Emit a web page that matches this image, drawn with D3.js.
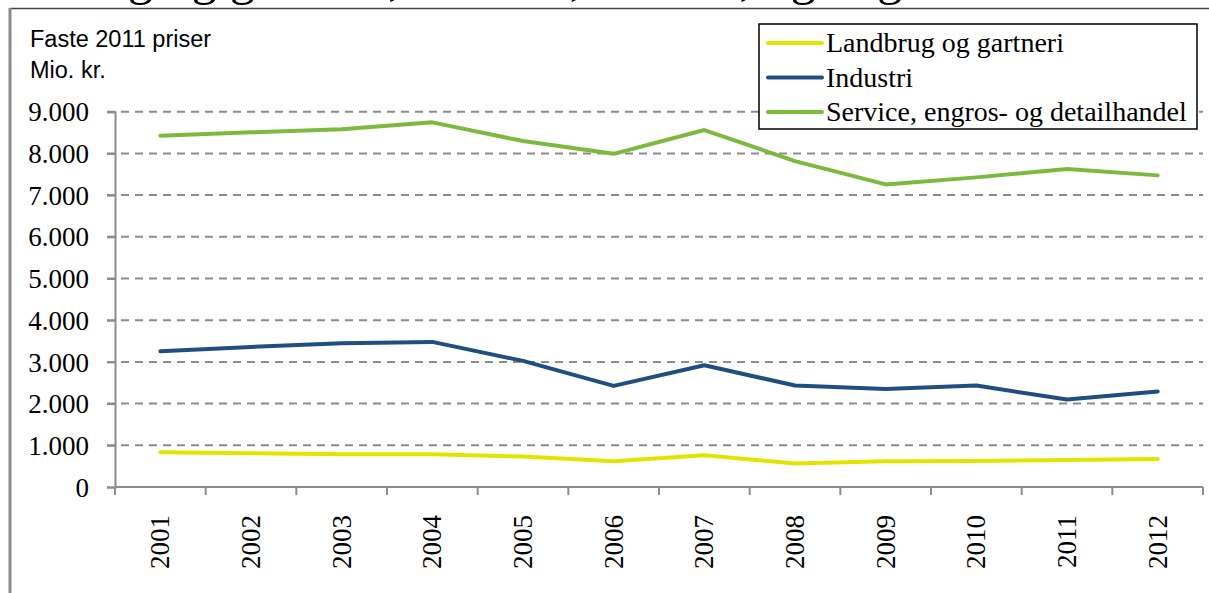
<!DOCTYPE html>
<html>
<head>
<meta charset="utf-8">
<script src="https://cdn.jsdelivr.net/npm/d3@7"></script>
<style>
  body { margin: 0; background: #fff; }
  svg { display: block; }
</style>
</head>
<body>
<div id="chart"></div>
<script>
// data
var years = ["2001", "2002", "2003", "2004", "2005", "2006", "2007", "2008", "2009", "2010", "2011", "2012"];
var landbrug = [833, 809, 785, 785, 729, 617, 761, 561, 617, 624, 648, 672];
var industri = [3256, 3360, 3449, 3480, 3024, 2424, 2920, 2433, 2352, 2433, 2097, 2289];
var service = [8424, 8505, 8577, 8745, 8296, 7990, 8560, 7816, 7257, 7425, 7624, 7473];
var yTicks = [0, 1000, 2000, 3000, 4000, 5000, 6000, 7000, 8000, 9000];
var seriesNames = ["Landbrug og gartneri", "Industri", "Service, engros- og detailhandel"];
var seriesColors = ["#e3e300", "#1f4e80", "#7db93f"];

var width = 1209, height = 593;
var margin = {top: 112, right: 6, bottom: 106, left: 115};

var svg = d3.select("#chart")
    .append("svg")
    .attr("width", width)
    .attr("height", height);

// frame bits from the cut document page (title only shows its descenders)
svg.append("text")
    .attr("x", -45)
    .attr("y", -6)
    .attr("font-family", "Liberation Serif")
    .attr("font-size", 51)
    .attr("fill", "#000")
    .text("Landbrug og gartneri, industri, service, og engroshandel");

svg.append("line")
    .attr("x1", 10).attr("x2", width)
    .attr("y1", 8.5).attr("y2", 8.5)
    .attr("stroke", "#444")
    .attr("stroke-width", 1.5);

svg.append("line")
    .attr("x1", 10).attr("x2", 10)
    .attr("y1", 8).attr("y2", height)
    .attr("stroke", "#8a8a8a")
    .attr("stroke-width", 3);

var x = d3.scaleBand()
    .domain(years)
    .range([margin.left, width - margin.right]);

var y = d3.scaleLinear()
    .domain([0, 9000])
    .range([height - margin.bottom, margin.top - 0.3]);

var fmt = function(d) { return d3.format(",")(d).replace(/,/g, "."); };

// gridlines
svg.append("g")
    .selectAll("line")
    .data(yTicks.filter(function(d) { return d > 0; }))
    .enter()
    .append("line")
    .attr("x1", margin.left - 8)
    .attr("x2", width - margin.right)
    .attr("y1", function(d) { return y(d); })
    .attr("y2", function(d) { return y(d); })
    .attr("stroke", "#8c8c8c")
    .attr("stroke-width", 2)
    .attr("stroke-dasharray", "8,6");

// y axis
var yAxis = svg.append("g")
    .attr("transform", "translate(" + margin.left + ",0)")
    .call(d3.axisLeft(y).tickValues(yTicks).tickFormat(fmt).tickSize(8).tickPadding(18));
yAxis.select(".domain").attr("stroke", "#8c8c8c").attr("stroke-width", 2);
yAxis.selectAll(".tick line").attr("stroke", "#8c8c8c").attr("stroke-width", 2);
yAxis.selectAll(".tick text")
    .attr("font-family", "Liberation Serif")
    .attr("font-size", 27)
    .attr("fill", "#000")
    .attr("dy", "0.34em");

// x axis
var xAxisG = svg.append("g")
    .attr("transform", "translate(0," + y(0) + ")");
xAxisG.append("line")
    .attr("x1", margin.left).attr("x2", width - margin.right)
    .attr("stroke", "#8c8c8c")
    .attr("stroke-width", 2);
xAxisG.selectAll(".xtick")
    .data(years.concat(["end"]))
    .enter()
    .append("line")
    .attr("x1", function(d, i) { return margin.left + i * x.step(); })
    .attr("x2", function(d, i) { return margin.left + i * x.step(); })
    .attr("y1", 0).attr("y2", 8)
    .attr("stroke", "#8c8c8c")
    .attr("stroke-width", 2);
xAxisG.selectAll(".xlabel")
    .data(years)
    .enter()
    .append("text")
    .attr("transform", function(d) {
        return "translate(" + (x(d) + x.bandwidth() / 2 + 9) + ",28) rotate(-90)";
    })
    .attr("text-anchor", "end")
    .attr("font-family", "Liberation Serif")
    .attr("font-size", 27)
    .attr("fill", "#000")
    .text(function(d) { return d; });

// lines
var line = d3.line()
    .x(function(d, i) { return x(years[i]) + x.bandwidth() / 2; })
    .y(function(d) { return y(d); });

[landbrug, industri, service].forEach(function(s, k) {
    svg.append("path")
        .datum(s)
        .attr("fill", "none")
        .attr("stroke", seriesColors[k])
        .attr("stroke-width", 4)
        .attr("stroke-linejoin", "round")
        .attr("stroke-linecap", "round")
        .attr("d", line);
});

// unit labels
svg.append("text")
    .attr("x", 30).attr("y", 47)
    .attr("font-family", "Liberation Sans")
    .attr("font-size", 23.5)
    .text("Faste 2011 priser");
svg.append("text")
    .attr("x", 30).attr("y", 78)
    .attr("font-family", "Liberation Sans")
    .attr("font-size", 23.5)
    .text("Mio. kr.");

// legend
var legend = svg.append("g");
legend.append("rect")
    .attr("x", 759).attr("y", 24)
    .attr("width", 438).attr("height", 105)
    .attr("fill", "#fff")
    .attr("stroke", "#000")
    .attr("stroke-width", 1.5);
var item = legend.selectAll(".item")
    .data(seriesNames)
    .enter()
    .append("g")
    .attr("transform", function(d, i) { return "translate(0," + (43 + i * 34.5) + ")"; });
item.append("line")
    .attr("x1", 768).attr("x2", 822)
    .attr("stroke", function(d, i) { return seriesColors[i]; })
    .attr("stroke-width", 4)
    .attr("stroke-linecap", "round");
item.append("text")
    .attr("x", 826)
    .attr("dy", "0.33em")
    .attr("font-family", "Liberation Serif")
    .attr("font-size", 28)
    .attr("fill", "#000")
    .text(function(d) { return d; });
</script>
</body>
</html>
